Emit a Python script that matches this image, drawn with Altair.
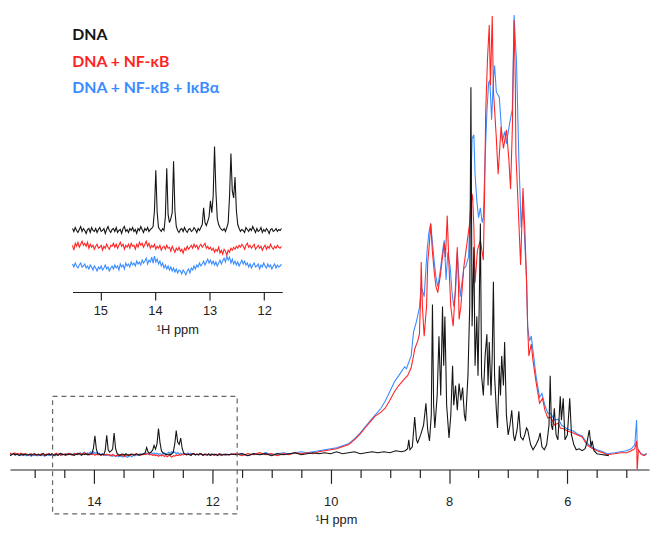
import altair as alt
import pandas as pd

# ---------------- data ----------------
SERIES = ["DNA", "DNA + NF-κB", "DNA + NF-κB + IκBα"]
COLORS = ["#151515", "#ff2424", "#3a8cff"]

# imino region (sampled spectrum, inset units = magnified intensity)
IMINO_START = 15.51
IMINO_STEP = 0.025
INSET_GAIN = 3.2          # inset vertical magnification relative to main plot
INSET_OFFSETS = [0, -17, -36]

IMINO_BLACK = [
    2, -1, 3, 0, -2, 1, 4, -1, 2, 0,
    -3, 1, 2, -2, 3, 0, -1, 2, -2, 1,
    3, -1, 0, 2, -3, 1, 4, 0, -2, 1,
    2, -1, 3, -2, 0, 1, -3, 2, 4, -1,
    1, -2, 2, 0, 3, -1, 1, -3, 2, 0,
    4, 1, -2, 2, 0, 3, -1, 1, 2, 4,
    20, 61, 18, 3, 1, -1, 2, 0, 14, 63,
    16, 8, 12, 18, 70, 20, 4, 0, -2, 1,
    2, -1, 3, 0, -2, 1, 2, -1, 0, 3,
    1, -2, 2, 0, 3, 6, 23, 8, 5, 9,
    14, 30, 18, 35, 85, 40, 12, 6, 3, 1,
    0, 2, -1, 3, 8, 35, 78, 40, 33, 54,
    20, 6, 2, -1, 1, 0, -2, 3, 1, -1,
    2, 0, 4, 1, -2, 2, -1, 0, 3, -2,
    1, -1, 2, 0, -3, 1, 2, -1, 0, 2,
    -1, 1, 0, 2,
]
IMINO_RED = [
    2, -3, 4, 1, 5, 0, 3, 6, 2, 4,
    1, 5, -1, 3, 0, 2, -2, 1, 3, -1,
    0, 2, -3, 1, -1, 3, 0, -2, 2, 1,
    4, 0, 3, -1, 2, 5, 1, 3, -2, 2,
    0, 3, -1, 4, 1, 2, -2, 3, 0, 5,
    2, 4, 0, 3, 6, 1, 4, -1, 2, 0,
    3, -2, 1, -1, 2, -3, 0, 1, -2, 2,
    -1, 0, -4, 1, -2, -5, -1, -3, 0, -4,
    -2, -6, -1, -3, 1, -2, 0, 2, -1, 3,
    0, 2, -2, 1, 3, 0, 2, 4, -1, 1,
    -2, 0, -3, -1, -5, -2, -4, 0, -6, -3,
    -7, -2, -4, -8, -3, -5, -1, -3, 0, -2,
    1, -1, 2, 0, 3, 1, -2, 2, 4, 0,
    2, -1, 1, 3, -2, 0, 2, -1, 1, -3,
    0, 2, -2, 1, -1, 3, 0, -2, 1, -1,
    2, 0, -1, 1,
]
IMINO_BLUE = [
    2, -1, 3, 0, -2, 1, 3, -1, 0, 2,
    -2, 0, -3, 1, -1, -4, 0, -2, -5, -1,
    -3, 0, -4, -2, 1, -3, -1, -5, -2, 0,
    -3, 1, -2, 0, -4, 2, -1, 1, -3, 3,
    0, 2, -1, 4, 1, 3, 0, 5, 2, 4,
    1, 6, 3, 5, 8, 2, 6, 4, 9, 3,
    10, 4, 7, 2, 5, 0, 3, -2, 1, -3,
    0, -4, -1, -5, -2, -6, -3, -7, -4, -5,
    -8, -4, -6, -9, -5, -3, -7, -2, -4, 0,
    -3, 1, -1, 3, 0, 2, 5, 1, 4, 7,
    3, 6, 2, 5, 1, 4, 0, 3, 6, 2,
    5, 8, 4, 10, 6, 9, 3, 7, 2, 5,
    1, 4, 0, 3, 6, 2, 5, 1, 3, -1,
    2, -2, 1, 3, -1, 0, 2, -3, 1, -1,
    3, 0, -2, 2, -1, 1, -3, 0, 2, -2,
    1, -1, 0, 2,
]

# rest of the spectrum (ppm, intensity) in main-plot units
BLACK_MAIN = [
    (11.6, 0), (11.5, 1), (11.4, -1), (11.3, 1), (11.2, 0), (11.1, 1), (11.0, -1),
    (10.9, 1), (10.8, 0), (10.7, 1), (10.6, 2), (10.5, 0), (10.4, 1), (10.3, 2),
    (10.2, 1), (10.1, 2), (10.0, 1), (9.9, 3), (9.8, 1), (9.7, 2), (9.6, 3),
    (9.5, 1), (9.4, 2), (9.3, 3), (9.2, 2), (9.1, 3), (9.0, 2), (8.9, 4),
    (8.8, 3), (8.74, 4), (8.7, 6), (8.68, 15), (8.66, 5), (8.62, 8), (8.58, 38),
    (8.55, 15), (8.53, 12), (8.48, 20), (8.43, 30), (8.39, 52), (8.36, 25),
    (8.33, 14), (8.3, 40), (8.28, 152), (8.26, 50), (8.24, 27), (8.2, 60),
    (8.17, 120), (8.14, 60), (8.11, 150), (8.09, 90), (8.07, 140), (8.04, 50),
    (8.0, 17), (7.97, 40), (7.94, 90), (7.92, 50), (7.89, 70), (7.86, 45),
    (7.83, 72), (7.8, 55), (7.77, 68), (7.74, 40), (7.72, 34), (7.68, 80),
    (7.65, 150), (7.63, 372), (7.61, 130), (7.58, 210), (7.56, 90), (7.53, 140),
    (7.51, 80), (7.49, 150), (7.47, 234), (7.45, 80), (7.42, 60), (7.39, 100),
    (7.36, 122), (7.34, 70), (7.32, 114), (7.29, 60), (7.27, 100), (7.25, 175),
    (7.23, 80), (7.2, 45), (7.18, 27), (7.15, 90), (7.13, 60), (7.11, 100),
    (7.08, 70), (7.06, 114), (7.03, 40), (7.0, 20), (6.97, 30), (6.94, 45),
    (6.91, 20), (6.89, 14), (6.85, 25), (6.82, 44), (6.79, 18), (6.75, 15),
    (6.72, 20), (6.69, 27), (6.67, 25), (6.62, 10), (6.58, 5), (6.53, 10),
    (6.49, 15), (6.46, 22), (6.43, 8), (6.39, 5), (6.35, 10), (6.31, 30),
    (6.29, 80), (6.27, 30), (6.25, 25), (6.22, 47), (6.19, 20), (6.16, 15),
    (6.12, 59), (6.1, 35), (6.07, 57), (6.04, 15), (6.0, 20), (5.96, 57),
    (5.93, 20), (5.89, 10), (5.85, 5), (5.8, 6), (5.75, 4), (5.7, 6),
    (5.67, 12), (5.63, 25), (5.6, 8), (5.58, 14), (5.55, 4), (5.5, 1),
    (5.4, 0), (5.3, -1),
]
RED_MAIN = [
    (11.6, 1), (11.5, -1), (11.4, 1), (11.3, 0), (11.2, 2), (11.1, 0), (11.0, 1),
    (10.9, -1), (10.8, 1), (10.7, 0), (10.6, 2), (10.5, 1), (10.4, 2), (10.3, 1),
    (10.2, 3), (10.1, 4), (10.0, 5), (9.9, 6), (9.8, 8), (9.75, 9), (9.7, 10),
    (9.6, 15), (9.5, 21), (9.42, 27), (9.35, 32), (9.25, 39), (9.15, 43),
    (9.08, 47), (9.0, 55), (8.92, 64), (8.85, 70), (8.75, 77), (8.7, 80),
    (8.64, 88), (8.6, 100), (8.58, 107), (8.53, 115), (8.5, 122), (8.48, 160),
    (8.47, 195), (8.45, 150), (8.42, 120), (8.38, 150), (8.36, 194), (8.33, 215),
    (8.31, 234), (8.28, 205), (8.25, 185), (8.22, 170), (8.19, 164), (8.15, 180),
    (8.1, 205), (8.08, 214), (8.06, 200), (8.03, 242), (8.0, 190), (7.97, 150),
    (7.93, 130), (7.9, 160), (7.86, 210), (7.84, 170), (7.83, 137), (7.8, 150),
    (7.75, 190), (7.69, 217), (7.65, 235), (7.61, 264), (7.6, 260), (7.58, 230),
    (7.56, 174), (7.52, 207), (7.47, 217), (7.42, 197), (7.4, 260), (7.38, 347),
    (7.35, 400), (7.32, 435), (7.3, 374), (7.27, 444), (7.25, 369), (7.2, 320),
    (7.17, 284), (7.12, 332), (7.08, 310), (7.03, 329), (6.99, 300), (6.96, 269),
    (6.93, 330), (6.9, 440), (6.88, 380), (6.87, 305), (6.83, 250), (6.79, 192),
    (6.75, 270), (6.72, 230), (6.69, 177), (6.67, 127), (6.65, 100), (6.61, 112),
    (6.58, 95), (6.53, 74), (6.47, 52), (6.42, 57), (6.38, 45), (6.33, 37),
    (6.28, 38), (6.22, 30), (6.15, 32), (6.12, 27), (6.05, 26), (6.0, 24),
    (5.9, 22), (5.83, 20), (5.75, 18), (5.67, 10), (5.6, 7), (5.5, 4),
    (5.4, 2), (5.33, 0), (5.2, 1), (5.1, 2), (5.0, 2), (4.92, 4), (4.86, 6),
    (4.83, 14), (4.82, -16), (4.8, 5), (4.75, 0), (4.7, -1), (4.66, 1),
]
BLUE_MAIN = [
    (11.6, 0), (11.5, 1), (11.4, -1), (11.3, 1), (11.2, 0), (11.1, 2), (11.0, 0),
    (10.9, 1), (10.8, 2), (10.7, 1), (10.6, 2), (10.5, 3), (10.4, 2), (10.3, 3),
    (10.2, 4), (10.1, 5), (10.0, 6), (9.9, 7), (9.8, 9), (9.7, 11), (9.6, 16),
    (9.5, 22), (9.42, 28), (9.35, 33), (9.25, 40), (9.15, 47), (9.08, 54),
    (9.0, 64), (8.92, 74), (8.85, 80), (8.75, 89), (8.72, 87), (8.64, 100),
    (8.6, 124), (8.55, 135), (8.5, 149), (8.47, 170), (8.42, 160), (8.37, 207),
    (8.34, 225), (8.31, 234), (8.28, 215), (8.25, 195), (8.22, 180), (8.19, 170),
    (8.15, 185), (8.1, 210), (8.08, 217), (8.05, 177), (8.02, 205), (7.98, 190),
    (7.95, 165), (7.92, 150), (7.89, 165), (7.86, 205), (7.84, 185), (7.81, 160),
    (7.78, 175), (7.75, 189), (7.72, 190), (7.67, 200), (7.64, 250), (7.61, 320),
    (7.58, 324), (7.56, 284), (7.53, 257), (7.5, 240), (7.47, 250), (7.44, 235),
    (7.42, 240), (7.39, 300), (7.36, 347), (7.33, 377), (7.31, 379), (7.28, 339),
    (7.25, 380), (7.23, 394), (7.2, 367), (7.15, 362), (7.1, 317), (7.06, 327),
    (7.03, 315), (6.98, 334), (6.93, 350), (6.9, 445), (6.88, 420), (6.86, 399),
    (6.82, 300), (6.78, 230), (6.75, 255), (6.72, 215), (6.69, 177), (6.67, 130),
    (6.64, 115), (6.61, 120), (6.58, 105), (6.53, 80), (6.47, 58), (6.43, 62),
    (6.38, 50), (6.33, 42), (6.28, 42), (6.22, 35), (6.15, 36), (6.1, 30),
    (6.05, 28), (6.0, 26), (5.9, 24), (5.83, 21), (5.75, 19), (5.67, 12),
    (5.6, 8), (5.5, 5), (5.4, 3), (5.33, 1), (5.2, 2), (5.1, 3), (5.0, 4),
    (4.92, 6), (4.86, 10), (4.83, 35), (4.82, 10), (4.8, 4), (4.75, 1),
    (4.7, 0), (4.66, 1),
]

MAIN_DOMAIN = [15.42, 4.62]
MAJOR_TICKS = [14, 12, 10, 8, 6]
MINOR_TICKS = [15, 14.5, 13.5, 13, 12.5, 11.5, 11, 10.5, 9.5, 9, 8.5, 7.5, 7, 6.5, 5.5, 5]
INSET_DOMAIN = [15.51, 11.67]
INSET_TICKS = [15, 14, 13, 12]
BOX = {"ppm1": 14.70, "ppm2": 11.58, "top": 59, "bottom": -60}

# ---------------- build tables ----------------
imino = [IMINO_BLACK, IMINO_RED, IMINO_BLUE]
mains = [BLACK_MAIN, RED_MAIN, BLUE_MAIN]
main_rows, inset_rows = [], []
for s, name in enumerate(SERIES):
    for i, v in enumerate(imino[s]):
        ppm = round(IMINO_START - i * IMINO_STEP, 4)
        main_rows.append({"series": name, "ppm": ppm, "val": v / INSET_GAIN})
        inset_rows.append({"series": name, "ppm": ppm, "val": v + INSET_OFFSETS[s]})
    for ppm, v in mains[s]:
        main_rows.append({"series": name, "ppm": ppm, "val": v})
main_df = pd.DataFrame(main_rows)
inset_df = pd.DataFrame(inset_rows)

FONT = "Liberation Sans"


def main_x_scale():
    return alt.Scale(domain=MAIN_DOMAIN, nice=False, zero=False)


def main_y_scale():
    return alt.Scale(domain=[-15, 449], nice=False, zero=False)


def main_line(idx, axis):
    return (
        alt.Chart(main_df)
        .transform_filter(alt.datum.series == SERIES[idx])
        .mark_line(color=COLORS[idx], strokeWidth=1.1, clip=True)
        .encode(
            x=alt.X("ppm:Q", scale=main_x_scale(), axis=axis),
            y=alt.Y("val:Q", scale=main_y_scale(), axis=None),
        )
    )


major_axis = alt.Axis(
    values=MAJOR_TICKS, orient="bottom", tickSize=14, labelPadding=12,
    title="¹H ppm", titlePadding=6, titleX=330, grid=False, format="d",
)
minor_axis = alt.Axis(
    values=MINOR_TICKS, orient="bottom", tickSize=8, labels=False,
    domain=False, title=None, grid=False,
)

box = (
    alt.Chart(pd.DataFrame([BOX]))
    .mark_rect(fill=None, fillOpacity=0, stroke="#666666", strokeWidth=1.2,
               strokeDash=[5, 4], clip=False)
    .encode(
        x=alt.X("ppm1:Q", scale=main_x_scale(), axis=None),
        x2="ppm2:Q",
        y=alt.Y("top:Q", scale=main_y_scale(), axis=None),
        y2="bottom:Q",
    )
)

legend_layers = []
for i, name in enumerate(SERIES):
    legend_layers.append(
        alt.Chart(pd.DataFrame({"label": [name]}))
        .mark_text(align="left", baseline="middle", font="Lato", fontSize=16,
                   fontWeight="bold", color=COLORS[i])
        .encode(text="label:N", x=alt.value(63), y=alt.value(24 + 27 * i))
    )


def inset_line(idx, axis):
    return (
        alt.Chart(inset_df)
        .transform_filter(alt.datum.series == SERIES[idx])
        .mark_line(color=COLORS[idx], strokeWidth=1.1)
        .encode(
            x=alt.X("ppm:Q", scale=alt.Scale(domain=INSET_DOMAIN, range=[63.3, 275.7],
                                            nice=False, zero=False), axis=axis),
            y=alt.Y("val:Q", scale=alt.Scale(domain=[-70, 90], range=[292, 132],
                                            nice=False, zero=False), axis=None),
        )
    )


inset_axis = alt.Axis(
    values=INSET_TICKS, orient="bottom", offset=-179.7, tickSize=8,
    labelPadding=5, title="¹H ppm", titlePadding=6, grid=False, format="d",
)

chart = (
    alt.layer(
        main_line(2, minor_axis), main_line(1, None), main_line(0, major_axis), box,
        inset_line(2, inset_axis), inset_line(1, None), inset_line(0, None),
        *legend_layers,
    )
    .resolve_scale(x="independent", y="independent")
    .resolve_axis(x="independent", y="independent")
    .properties(
        width=647, height=464,
        autosize=alt.AutoSizeParams(type="none"),
        padding={"left": 2, "top": 0, "right": 1, "bottom": 55},
        background="white",
    )
    .configure_view(stroke=None)
    .configure_axis(
        labelFont=FONT, labelFontSize=13, labelColor="#222222",
        titleFont=FONT, titleFontSize=13, titleFontWeight="normal", titleColor="#222222",
        domainColor="#222222", tickColor="#222222", domainWidth=1.2, tickWidth=1.2,
    )
)

chart.save("out.html", embed_options={"renderer": "svg", "actions": False})
